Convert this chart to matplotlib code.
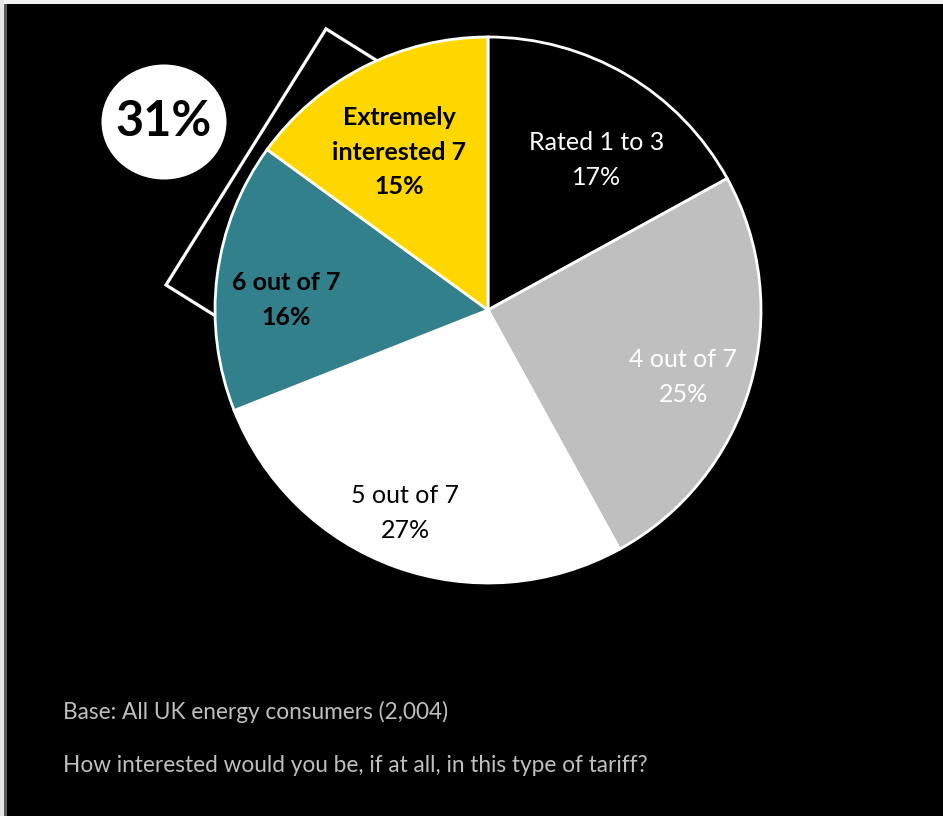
import matplotlib
matplotlib.use("Agg")
import matplotlib.pyplot as plt
from matplotlib.patches import Rectangle, Ellipse
import numpy as np

# Survey answers, clockwise from 12 o'clock
categories = ["Rated 1 to 3", "4 out of 7", "5 out of 7", "6 out of 7", "Extremely\ninterested 7"]
shares = [17, 25, 27, 16, 15]
slice_colors = ["#000000", "#bfbfbf", "#ffffff", "#31808b", "#ffd700"]
label_colors = ["#ffffff", "#ffffff", "#000000", "#000000", "#000000"]
label_bold = [False, False, False, True, True]

base_note = "Base: All UK energy consumers (2,004)"
question = "How interested would you be, if at all, in this type of tariff?"

W, H = 943, 816
fig = plt.figure(figsize=(W / 100, H / 100), dpi=100, facecolor="#000000")
ax = fig.add_axes([0, 0, 1, 1])
ax.set_facecolor("#000000")
ax.set_xlim(0, W)
ax.set_ylim(0, H)
ax.axis("off")

FONT = "Lato"

def py(y):
    # convert a top-down pixel row into the axes' bottom-up y
    return H - y

center = (488, py(310))
radius = 273

# highlight frame around the two top-box slices (partly hidden by the pie)
frame = Rectangle((166, py(285)), 300, 302, angle=-32, fill=False,
                  edgecolor="#ffffff", linewidth=2.3, zorder=1)
ax.add_patch(frame)

wedges, _ = ax.pie(shares, colors=slice_colors, startangle=90, counterclock=False,
                   center=center, radius=radius,
                   wedgeprops=dict(edgecolor="#ffffff", linewidth=2.0))
for w in wedges:
    w.set_zorder(2)
ax.set_xlim(0, W)
ax.set_ylim(0, H)
ax.set_aspect("equal")

# label anchors (pixel positions of text centres)
label_pos = [(597, 160), (683, 377), (405, 513), (286, 300), (399, 152)]
for cat, val, (lx, ly), col, bold in zip(categories, shares, label_pos, label_colors, label_bold):
    ax.text(lx, py(ly), f"{cat}\n{val}%", ha="center", va="center", color=col,
            fontsize=18, fontfamily=FONT, fontweight="bold" if bold else "normal",
            linespacing=1.58, zorder=5, multialignment="center")

# top-two-box total badge
top_two = shares[3] + shares[4]
badge = Ellipse((164, py(122)), 125, 115, facecolor="#ffffff", edgecolor="none", zorder=3)
ax.add_patch(badge)
ax.text(164, py(121), f"{top_two}%", ha="center", va="center", color="#000000",
        fontsize=35, fontweight="bold", fontfamily=FONT, zorder=4)

ax.text(63, py(712), base_note, ha="left", va="center", color="#bfbfbf",
        fontsize=16.3, fontfamily=FONT)
ax.text(63, py(766), question, ha="left", va="center", color="#bfbfbf",
        fontsize=16.3, fontfamily=FONT)

# thin light border at top and left edges
ax.add_patch(Rectangle((0, H - 4), W, 4, facecolor="#f2f2f2", edgecolor="none", zorder=6))
ax.add_patch(Rectangle((0, 0), 4, H, facecolor="#e6e6e6", edgecolor="none", zorder=6))
ax.add_patch(Rectangle((4, 0), 3, H - 4, facecolor="#5a5a5a", edgecolor="none", zorder=6))

fig.savefig("out.png", dpi=100, facecolor="#000000")
